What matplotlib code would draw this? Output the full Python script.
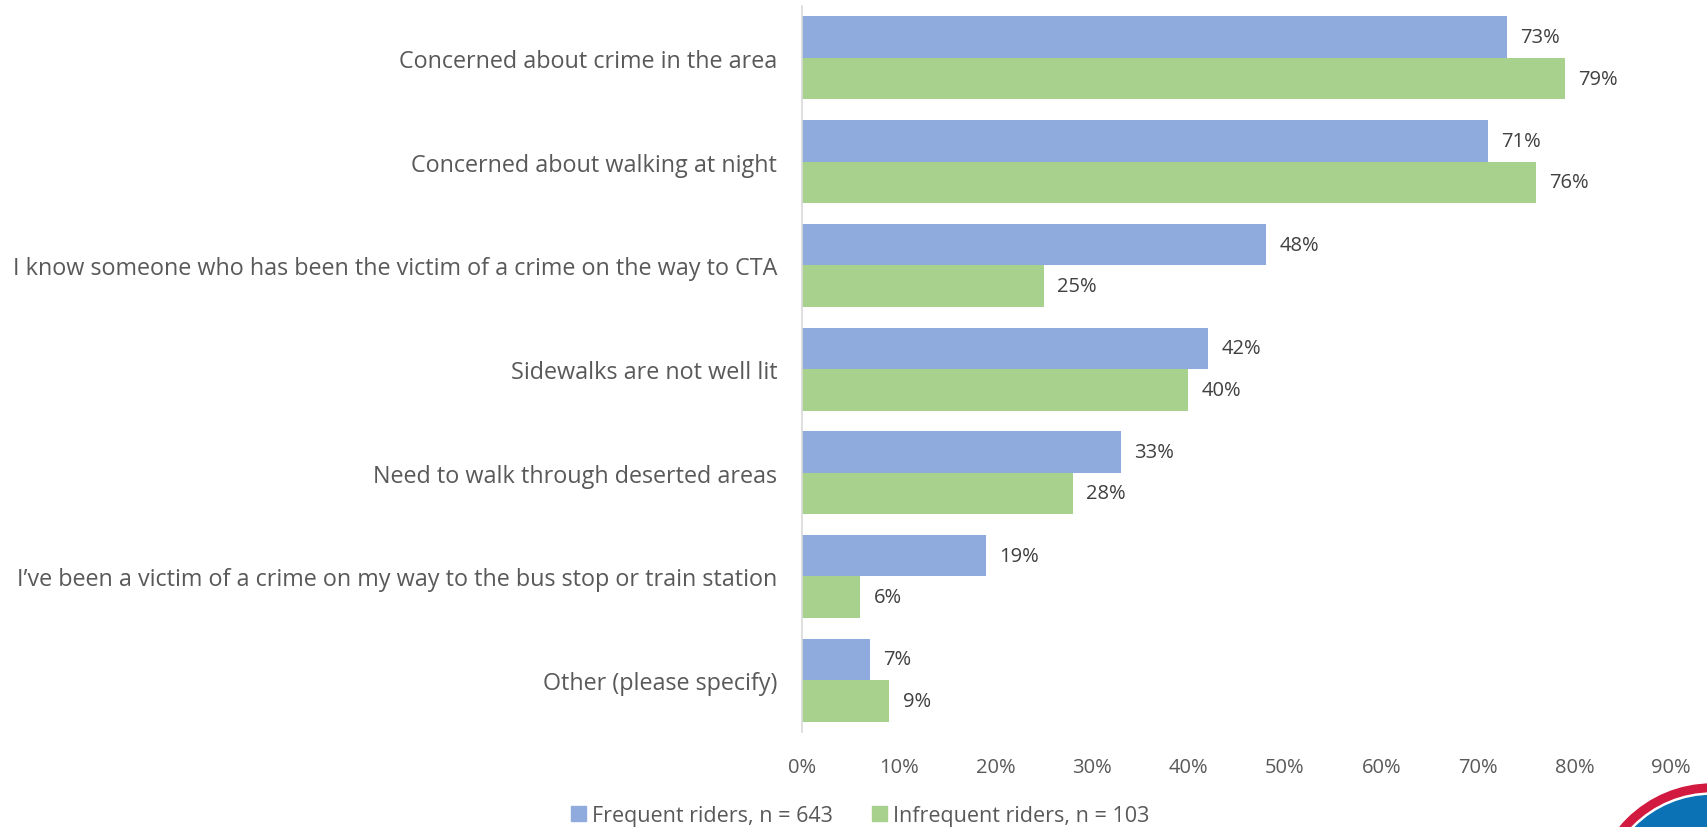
import matplotlib
matplotlib.use('Agg')
import matplotlib.pyplot as plt
import numpy as np
from matplotlib.patches import Patch, Circle

plt.rcParams['font.family'] = ['Open Sans', 'DejaVu Sans']

# survey answers, top to bottom
categories = [
    'Concerned about crime in the area',
    'Concerned about walking at night',
    'I know someone who has been the victim of a crime on the way to CTA',
    'Sidewalks are not well lit',
    'Need to walk through deserted areas',
    'I\u2019ve been a victim of a crime on my way to the bus stop or train station',
    'Other (please specify)',
]
frequent = [73, 71, 48, 42, 33, 19, 7]
infrequent = [79, 76, 25, 40, 28, 6, 9]
series_names = ['Frequent riders, n = 643', 'Infrequent riders, n = 103']
x_ticks = [0, 10, 20, 30, 40, 50, 60, 70, 80, 90]

BLUE = '#8FAADC'
GREEN = '#A9D18E'
TEXT = '#595959'

fig = plt.figure(figsize=(17.07, 8.28), dpi=100)
ax = fig.add_axes([0.470, 0.1147, 0.509, 0.8768])

y = np.arange(len(categories))
h = 0.4
ax.barh(y - h / 2, frequent, height=h, color=BLUE)
ax.barh(y + h / 2, infrequent, height=h, color=GREEN)

for yi, v in zip(y, frequent):
    ax.text(v + 1.4, yi - h / 2, f'{v}%', va='center', ha='left', fontsize=14.5, color='#404040')
for yi, v in zip(y, infrequent):
    ax.text(v + 1.4, yi + h / 2, f'{v}%', va='center', ha='left', fontsize=14.5, color='#404040')

ax.set_xlim(0, 90)
ax.set_ylim(len(categories) - 0.5, -0.5)
ax.set_xticks(x_ticks)
ax.set_xticklabels([f'{t}%' for t in x_ticks])
ax.set_yticks(y)
ax.set_yticklabels(categories)
ax.tick_params(axis='x', length=0, pad=18, labelsize=14.5, labelcolor=TEXT)
ax.tick_params(axis='y', length=0, pad=18, labelsize=16.8, labelcolor=TEXT)

for side in ['top', 'right', 'bottom']:
    ax.spines[side].set_visible(False)
ax.spines['left'].set_color('#D9D9D9')
ax.spines['left'].set_linewidth(1.2)

handles = [Patch(color=BLUE), Patch(color=GREEN)]
fig.legend(handles, series_names, loc='center', bbox_to_anchor=(0.504, 0.0133),
           ncol=2, frameon=False, fontsize=15.5, labelcolor=TEXT,
           handlelength=0.7, handleheight=0.7, handletextpad=0.3,
           columnspacing=1.8, borderaxespad=0, borderpad=0)

# corner logo, mostly off the page
tr = fig.dpi_scale_trans
for r, c in [(1.20, '#D2193F'), (1.11, 'white'), (1.085, '#0B72B5')]:
    fig.patches.append(Circle((17.12, -0.77), r, transform=tr, color=c, zorder=5))

fig.savefig('out.png', dpi=100)
